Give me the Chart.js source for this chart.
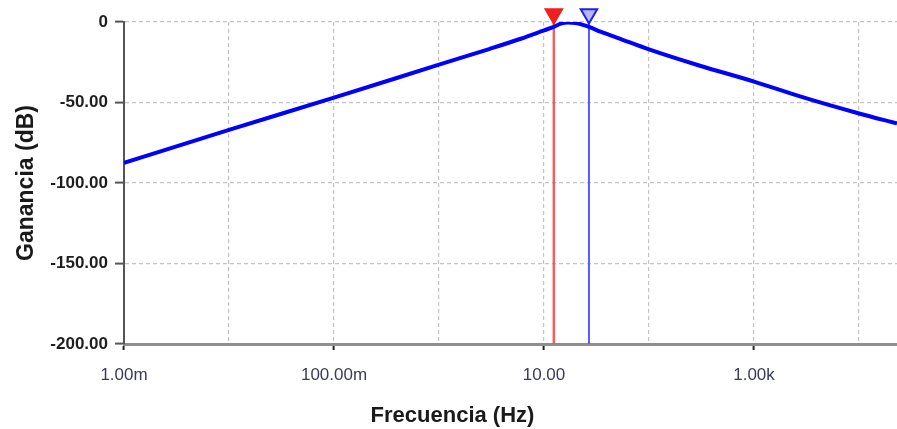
<!DOCTYPE html>
<html>
<head>
<meta charset="utf-8">
<script src="https://cdn.jsdelivr.net/npm/chart.js@4"></script>
<style>
  html, body { margin: 0; padding: 0; background: #fff; }
  canvas { display: block; }
</style>
</head>
<body>
<canvas id="bodeChart" width="897" height="429"></canvas>
<script>
// frequency (Hz) and gain (dB)
const freqs = [0.001, 0.01, 0.1, 1, 3, 6, 10, 12.4, 14.5, 17, 20, 23, 26.8, 35, 50, 100, 300, 1000, 3000, 10000, 23000];
const gains = [-87.5, -67, -47, -26.5, -16.8, -10.4, -5.2, -3, -1.0, -0.3, -0.7, -1.6, -3, -6.2, -9.8, -17, -27, -37, -47, -56.8, -63];

// cursor markers
const cursorRed = 12.4;
const cursorBlue = 26.8;

const xTickValues = [0.001, 0.01, 0.1, 1, 10, 100, 1000, 10000];
const xTickLabels = ['1.00m', '', '100.00m', '', '10.00', '', '1.00k', ''];
const yTickValues = [0, -50, -100, -150, -200];
const yTickLabels = ['0', '-50.00', '-100.00', '-150.00', '-200.00'];

const lineData = freqs.map((f, i) => ({ x: f, y: gains[i] }));

const axisTitles = {
    id: 'axisTitles',
    afterDraw(chart) {
        const { ctx, chartArea } = chart;
        ctx.save();
        ctx.fillStyle = '#1a1a1a';
        ctx.textAlign = 'center';
        ctx.textBaseline = 'middle';
        ctx.font = 'bold 22px "Liberation Sans", Arial, sans-serif';
        ctx.fillText('Frecuencia (Hz)', chart.width / 2 + 4, chart.height - 13);
        ctx.translate(27, (chartArea.top + chartArea.bottom) / 2);
        ctx.rotate(-Math.PI / 2);
        ctx.font = 'bold 23px "Liberation Sans", Arial, sans-serif';
        ctx.fillText('Ganancia (dB)', 0, 0);
        ctx.restore();
    }
};

const ctx = document.getElementById('bodeChart').getContext('2d');
new Chart(ctx, {
    type: 'line',
    data: {
        datasets: [
            {
                data: lineData,
                borderColor: '#0000ff',
                borderWidth: 4,
                pointRadius: 0,
                cubicInterpolationMode: 'monotone',
                order: 1
            },
            {
                data: [{ x: cursorRed, y: 0 }, { x: cursorRed, y: -200 }],
                borderColor: 'rgba(240, 80, 80, 0.9)',
                borderWidth: 2.5,
                pointRadius: 0,
                order: 2
            },
            {
                data: [{ x: cursorBlue, y: 0 }, { x: cursorBlue, y: -200 }],
                borderColor: '#5a5aff',
                borderWidth: 2,
                pointRadius: 0,
                order: 2
            },
            {
                // cursor heads above plot
                data: [{ x: cursorRed, y: 5 }, { x: cursorBlue, y: 5 }],
                showLine: false,
                pointStyle: 'triangle',
                rotation: 180,
                pointRadius: 9.5,
                backgroundColor: ['#ee2020', '#b8b8ff'],
                borderColor: ['#ee2020', '#2020ee'],
                borderWidth: 2,
                clip: false,
                order: 0
            }
        ]
    },
    options: {
        responsive: false,
        animation: false,
        layout: { autoPadding: false, padding: { top: 22, right: 0, left: 0, bottom: 0 } },
        plugins: {
            legend: { display: false },
            tooltip: { enabled: false }
        },
        scales: {
            x: {
                type: 'logarithmic',
                min: 0.001,
                max: 23000,
                afterBuildTicks: (scale) => {
                    scale.ticks = xTickValues.map(v => ({ value: v }));
                },
                afterFit: (scale) => {
                    scale.height = 85;
                    scale.paddingLeft = 0;
                    scale.paddingRight = 0;
                },
                ticks: {
                    autoSkip: false,
                    maxRotation: 0,
                    padding: 15,
                    color: '#3a3a5a',
                    font: { family: '"Liberation Sans", Arial, sans-serif', size: 17 },
                    callback: function (value, index) { return xTickLabels[index]; }
                },
                grid: {
                    color: (c) => c.index === 0 ? 'rgba(0,0,0,0)' : '#c4c4c4',
                    lineWidth: 1.2,
                    tickLength: 6,
                    tickColor: (c) => xTickLabels[c.index] ? '#222' : 'rgba(0,0,0,0)',
                    tickWidth: 2
                },
                border: {
                    display: true,
                    color: '#8e8e8e',
                    width: 3,
                    dash: [4, 3]
                }
            },
            y: {
                min: -200,
                max: 0,
                afterBuildTicks: (scale) => {
                    scale.ticks = yTickValues.map(v => ({ value: v }));
                },
                afterFit: (scale) => {
                    scale.width = 124;
                    scale.paddingTop = 0;
                    scale.paddingBottom = 0;
                },
                ticks: {
                    padding: 7,
                    color: '#1e1e1e',
                    font: { family: '"Liberation Sans", Arial, sans-serif', size: 17, weight: 'bold' },
                    callback: function (value, index) { return yTickLabels[index]; }
                },
                grid: {
                    color: (c) => c.tick && c.tick.value === -200 ? 'rgba(0,0,0,0)' : '#c4c4c4',
                    lineWidth: 1.2,
                    tickLength: 9,
                    tickColor: '#555',
                    tickWidth: 2
                },
                border: {
                    display: true,
                    color: '#555',
                    width: 2,
                    dash: [4, 3]
                }
            }
        }
    },
    plugins: [axisTitles]
});
</script>
</body>
</html>
